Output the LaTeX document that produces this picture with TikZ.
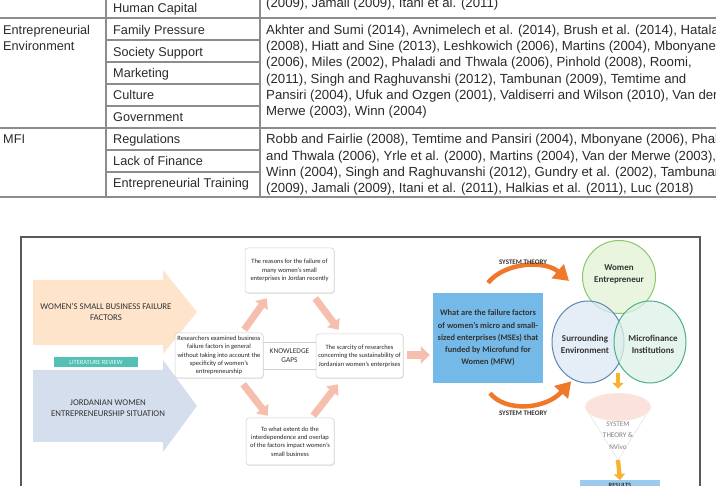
\documentclass[tikz,border=0pt]{standalone}
\usepackage{fontspec}
\setmainfont{Liberation Sans}
\newfontfamily\carlito{Carlito}
\usetikzlibrary{arrows.meta,shadows,calc,shapes.geometric}
\definecolor{tgray}{HTML}{8C8C8C}
\definecolor{tblack}{HTML}{2B2B2B}
\definecolor{peach}{HTML}{FDE4CB}
\definecolor{paleblue}{HTML}{D5DEED}
\definecolor{litteal}{HTML}{52C0B3}
\definecolor{salmon}{HTML}{F6BEAD}
\definecolor{qblue}{HTML}{74B9E7}
\definecolor{sysor}{HTML}{F0782A}
\definecolor{yel}{HTML}{F7B330}
\definecolor{resblue}{HTML}{9ACBEC}
\definecolor{wefill}{HTML}{E4F2D6}
\definecolor{wedraw}{HTML}{8CC66B}
\definecolor{sefill}{HTML}{DDE8F4}
\definecolor{sedraw}{HTML}{5C86B8}
\definecolor{mffill}{HTML}{DDF1E7}
\definecolor{mfdraw}{HTML}{4DAF88}
\definecolor{pinkfun}{HTML}{FBE3DB}
\definecolor{dtext}{HTML}{333333}
\definecolor{kgray}{HTML}{D0D0D0}
\begin{document}
\begin{tikzpicture}[x=1pt,y=-1pt,
  tline/.style={draw=tgray,line width=1.1pt},
  ttext/.style={font=\fontsize{12.7}{15}\selectfont,text=tblack,inner sep=0pt,anchor=base west},
  rtext/.style={font=\fontsize{13.2}{15}\selectfont,text=tblack,inner sep=0pt,anchor=base west},
  frame/.style={draw=black!65,line width=1.2pt},
  bigtxt/.style={font=\carlito\fontsize{8.8}{11}\selectfont,text=dtext,align=center,inner sep=0pt},
  kbox/.style={draw=kgray,line width=0.5pt,fill=white,rounded corners=3pt,
    drop shadow={shadow xshift=0.8pt,shadow yshift=-0.8pt,opacity=0.2},
    align=center,font=\carlito\fontsize{6.5}{8.3}\selectfont,text=black!85,inner sep=1pt},
  salarrow/.style={draw=salmon,line width=7pt,-{Triangle[width=15pt,length=9pt]}},
  sysarrow/.style={draw=sysor,line width=4.5pt,-{Triangle[width=18pt,length=15pt]}},
  yarrow/.style={draw=yel,line width=4.3pt,-{Triangle[width=11pt,length=6pt]}},
  systxt/.style={font=\carlito\bfseries\fontsize{7}{8}\selectfont,text=dtext,inner sep=0pt},
  ctxt/.style={font=\carlito\bfseries\fontsize{9}{12.5}\selectfont,text=dtext,align=center,inner sep=0pt}
]
\useasboundingbox (0,0) rectangle (716,486);
\fill[white] (0,0) rectangle (716,486);
\clip (0,0) rectangle (716,486);

% ---------------- table ----------------
\draw[tline] (0,18) -- (716,18);
\draw[tline] (0,128) -- (716,128);
\draw[tline] (0,197) -- (716,197);
\draw[tline] (106,-2) -- (106,197);
\draw[tline] (260,-2) -- (260,197);
\foreach \yy in {40,62,84,106,150,172} \draw[tline] (106,\yy) -- (260,\yy);

\node[ttext] (c2hc) at (113,12.5) {Human Capital};
\node[rtext] (c3hc) at (266,7.5) {(2009), Jamali (2009), Itani et al. (2011)};

\node[ttext] (c1ee1) at (3,34.5) {Entrepreneurial};
\node[ttext] (c1ee2) at (3,50.7) {Environment};
\node[ttext] (c2fp) at (113,34.5) {Family Pressure};
\node[ttext] (c2ss) at (113,56.3) {Society Support};
\node[ttext] (c2mk) at (113,77.8) {Marketing};
\node[ttext] (c2cu) at (113,99.6) {Culture};
\node[ttext] (c2go) at (113,121.3) {Government};
\node[rtext] (c3e1) at (266,34.5) {Akhter and Sumi (2014), Avnimelech et al. (2014), Brush et al. (2014), Hatala};
\node[rtext] (c3e2) at (266,50.7) {(2008), Hiatt and Sine (2013), Leshkowich (2006), Martins (2004), Mbonyane};
\node[rtext] (c3e3) at (266,66.9) {(2006), Miles (2002), Phaladi and Thwala (2006), Pinhold (2008), Roomi,};
\node[rtext] (c3e4) at (266,83.1) {(2011), Singh and Raghuvanshi (2012), Tambunan (2009), Temtime and};
\node[rtext] (c3e5) at (266,99.3) {Pansiri (2004), Ufuk and Ozgen (2001), Valdiserri and Wilson (2010), Van der};
\node[rtext] (c3e6) at (266,115.5) {Merwe (2003), Winn (2004)};

\node[ttext] (c1mfi) at (3,143.8) {MFI};
\node[ttext] (c2re) at (113,143.8) {Regulations};
\node[ttext] (c2lf) at (113,165.2) {Lack of Finance};
\node[ttext] (c2et) at (113,187.2) {Entrepreneurial Training};
\node[rtext] (c3m1) at (266,143.8) {Robb and Fairlie (2008), Temtime and Pansiri (2004), Mbonyane (2006), Phaladi};
\node[rtext] (c3m2) at (266,160.1) {and Thwala (2006), Yrle et al. (2000), Martins (2004), Van der Merwe (2003),};
\node[rtext] (c3m3) at (266,176.4) {Winn (2004), Singh and Raghuvanshi (2012), Gundry et al. (2002), Tambunan};
\node[rtext] (c3m4) at (266,192.7) {(2009), Jamali (2009), Itani et al. (2011), Halkias et al. (2011), Luc (2018)};

% ---------------- diagram ----------------
\draw[frame] (21,237) rectangle (700,520);

% big left arrows
\fill[peach] (33,280) -- (163,280) -- (163,270) -- (197,312) -- (163,354) -- (163,345) -- (33,345) -- cycle;
\fill[paleblue] (33,370) -- (163,370) -- (163,360) -- (197,406) -- (163,452) -- (163,442) -- (33,442) -- cycle;
\node[bigtxt] (wsbf) at (106,311.5) {WOMEN’S SMALL BUSINESS FAILURE\\FACTORS};
\node[bigtxt] (jwes) at (108,408.5) {JORDANIAN WOMEN\\ENTREPRENEURSHIP SITUATION};
\node[fill=litteal,minimum width=84pt,minimum height=10pt,inner sep=0pt,
  font=\carlito\fontsize{6.4}{7}\selectfont,text=white!92!litteal] (lit) at (96,362) {LITERATURE REVIEW};

% knowledge gap boxes
\node[draw=kgray,line width=0.5pt,fill=white,minimum width=63pt,minimum height=27pt,inner sep=0pt,
  align=center,font=\carlito\fontsize{7.4}{9}\selectfont,text=dtext] (kgap) at (289.5,355.5) {KNOWLEDGE\\GAPS};
\node[kbox,minimum width=89pt,minimum height=45pt] (ktop) at (289.5,270.5)
  {The reasons for the failure of\\many women’s small\\enterprises in Jordan recently};
\node[kbox,minimum width=88pt,minimum height=45pt] (kleft) at (219,355.5)
  {Researchers examined business\\failure factors in general\\without taking into account the\\specificity of women’s\\entrepreneurship};
\node[kbox,minimum width=87pt,minimum height=44pt] (kright) at (359.5,356)
  {The scarcity of researches\\concerning the sustainability of\\Jordanian women’s enterprises};
\node[kbox,minimum width=88pt,minimum height=47pt] (kbot) at (290,441.5)
  {To what extent do the\\interdependence and overlap\\of the factors impact women’s\\small business};

\draw[salarrow] ($(kleft.north east)+(-19,-3)$) -- ($(ktop.south west)+(22,5)$);
\draw[salarrow] ($(ktop.south east)+(-19,5)$) -- ($(kright.north west)+(23,-4)$);
\draw[salarrow] ($(kbot.north east)+(-21,-2)$) -- ($(kright.south west)+(22,6)$);
\draw[salarrow] ($(kleft.south east)+(-20,6)$) -- ($(kbot.north west)+(22,-2)$);

% question box
\node[fill=qblue,minimum width=110pt,minimum height=90pt,inner sep=0pt,align=center,
  font=\carlito\bfseries\fontsize{8.4}{12.2}\selectfont,text=dtext] (qbox) at (488,338)
  {What are the failure factors\\of women’s micro and small-\\sized enterprises (MSEs) that\\funded by Microfund for\\Women (MFW)};
\draw[salarrow,line width=8pt,-{Triangle[width=17pt,length=9pt]}] ($(kright.east)+(4,-1)$) -- ($(qbox.west)+(-3,17)$);

% venn circles
\node[circle,draw=wedraw,line width=1pt,fill=wefill,fill opacity=0.75,minimum size=73pt,inner sep=0pt] (we) at (619,277) {};
\node[ellipse,draw=sedraw,line width=1pt,fill=sefill,fill opacity=0.75,minimum width=72pt,minimum height=82pt,inner sep=0pt] (se) at (588,342) {};
\node[ellipse,draw=mfdraw,line width=1pt,fill=mffill,fill opacity=0.75,minimum width=72pt,minimum height=82pt,inner sep=0pt] (mf) at (650,342) {};
\node[ctxt] (wet) at (619,274.5) {Women\\Entrepreneur};
\node[ctxt] (set) at (585,344.5) {Surrounding\\Environment};
\node[ctxt] (mft) at (653,344.5) {Microfinance\\Institutions};

% system theory arrows
\coordinate (up0) at ($(qbox.north)+(0,-10)$);
\coordinate (lo0) at ($(qbox.south)+(2,10)$);
\draw[sysarrow] (up0) .. controls (505,262) and (545,260) .. ($(we.west)+(-13,4)$);
\draw[sysarrow] (lo0) .. controls (505,412) and (545,410) .. ($(se.south west)+(9,10)$);
\node[systxt] (st1) at (523,262) {SYSTEM THEORY};
\node[systxt] (st2) at (523,413) {SYSTEM THEORY};

% funnel
\coordinate (ftip) at (618,460);
\fill[white,draw=black!10,line width=0.6pt] (585,407) -- (ftip) -- (651,407) -- cycle;
\node[ellipse,fill=pinkfun,draw=pinkfun!80!black!10,minimum width=66pt,minimum height=28pt,inner sep=0pt] (fun) at (618,407) {};
\node[font=\carlito\fontsize{7.2}{11.5}\selectfont,text=black!50,align=center,inner sep=0pt] (funt) at (618,435.5) {SYSTEM\\THEORY \&\\NVivo};
\draw[yarrow] ($(fun.north)+(0,-20)$) -- ($(fun.north)+(0,-4)$);

% results
\node[fill=resblue,minimum width=80pt,minimum height=24pt,inner sep=0pt,anchor=north] (res) at (620,480) {};
\node[font=\carlito\bfseries\fontsize{6.5}{7}\selectfont,text=dtext,inner sep=0pt,anchor=base] (rest) at (620,488) {RESULTS};
\draw[yarrow] (ftip) -- (res.north);
\end{tikzpicture}
\end{document}
